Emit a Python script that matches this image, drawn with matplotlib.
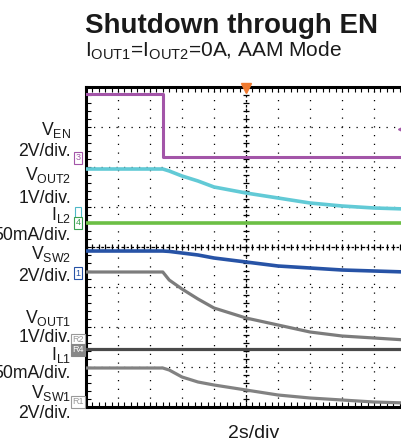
import numpy as np
import matplotlib
matplotlib.use("Agg")
import matplotlib.pyplot as plt

plt.rcParams['font.family'] = ['Liberation Sans', 'DejaVu Sans']
plt.rcParams['mathtext.fontset'] = 'custom'
plt.rcParams['mathtext.rm'] = 'Liberation Sans'
plt.rcParams['mathtext.it'] = 'Liberation Sans:italic'
plt.rcParams['mathtext.bf'] = 'Liberation Sans:bold'

# ---- data (scope divisions: x 0..10, y 0..8) ----
t_div = [0.0, 2.4, 2.6, 3.0, 3.5, 4.0, 5.0, 6.0, 7.0, 8.0, 9.0, 10.0]
ven_t = [0.0, 2.4, 2.4, 10.0]
ven = [7.83, 7.83, 6.25, 6.25]
vout2 = [5.95, 5.95, 5.9, 5.775, 5.65, 5.5, 5.35, 5.225, 5.1, 5.025, 4.975, 4.95]
il2 = [4.6] * len(t_div)
vsw2 = [3.9, 3.9, 3.89, 3.85, 3.8, 3.725, 3.625, 3.525, 3.475, 3.425, 3.4, 3.375]
vout1 = [3.375, 3.375, 3.175, 2.95, 2.7, 2.475, 2.225, 2.05, 1.875, 1.775, 1.725, 1.675]
il1 = [1.45] * len(t_div)
vsw1 = [0.975, 0.975, 0.925, 0.75, 0.625, 0.55, 0.425, 0.3, 0.225, 0.175, 0.125, 0.1]

W, H = 401, 443
fig = plt.figure(figsize=(W / 100, H / 100), dpi=100)
ax = fig.add_axes([86 / W, 36 / H, 320 / W, 320 / H])
ax.set_xlim(0, 10)
ax.set_ylim(0, 8)

# grid
for gx in range(1, 10):
    ax.axvline(gx, color='black', lw=0.9, ls=(0, (1, 6)), zorder=1)
for gy in range(1, 8):
    ax.axhline(gy, color='black', lw=0.9, ls=(0, (1, 5)), zorder=1)
ax.axvline(5, color='black', lw=0.9, ls=(0, (2, 2)), zorder=1)
ax.axhline(4, color='black', lw=0.9, ls=(0, (2, 2)), zorder=1)
ct = np.arange(0.2, 10, 0.2)
ax.plot(ct, [4] * len(ct), ls='none', marker='|', ms=5, mew=0.9, color='black', zorder=1)
cy = np.arange(0.2, 8, 0.2)
ax.plot([5] * len(cy), cy, ls='none', marker='_', ms=5, mew=0.9, color='black', zorder=1)

# traces
ax.plot(ven_t, ven, color='#a355a8', lw=2.2, zorder=3)
ax.plot(t_div, vout2, color='#62cad6', lw=2.6, zorder=3)
ax.plot(t_div, il2, color='#6cbf45', lw=2.6, zorder=3)
ax.plot(t_div, vsw2, color='#2753a6', lw=2.6, zorder=3)
ax.plot(t_div, vout1, color='#7c7c7c', lw=2.3, zorder=3)
ax.plot(t_div, il1, color='#4a4a4a', lw=2.3, zorder=3)
ax.plot(t_div, vsw1, color='#828282', lw=2.3, zorder=3)

# trigger marker
ax.plot([5], [7.97], marker='v', color='#f07a30', ms=7, clip_on=False, zorder=5)
ax.plot([9.85], [6.95], marker='<', color='#a355a8', ms=4, clip_on=False, zorder=5)

# frame and ticks
for s in ax.spines.values():
    s.set_linewidth(2.2)
ax.set_xticks([])
ax.set_yticks([])
ax.set_xticks(np.arange(0, 10.01, 0.2), minor=True)
ax.set_yticks(np.arange(0, 8.01, 0.2), minor=True)
ax.tick_params(which='minor', direction='in', length=3.5, width=0.8,
               top=True, bottom=True, left=True, right=True,
               labelbottom=False, labelleft=False)

def fy(py):
    return 1 - py / H

def fx(px):
    return px / W

# left labels (baselines in px)
lab = [
    (r'V$_{\mathrm{EN}}$', 135), ('2V/div.', 156),
    (r'V$_{\mathrm{OUT2}}$', 180), ('1V/div.', 203),
    (r'I$_{\mathrm{L2}}$', 220), ('50mA/div.', 240),
    (r'V$_{\mathrm{SW2}}$', 259), ('2V/div.', 281),
    (r'V$_{\mathrm{OUT1}}$', 323), ('1V/div.', 342),
    (r'I$_{\mathrm{L1}}$', 360), ('50mA/div.', 378),
    (r'V$_{\mathrm{SW1}}$', 398), ('2V/div.', 418),
]
for txt, py in lab:
    fig.text(fx(71), fy(py), txt, ha='right', va='baseline', fontsize=12.7, color='#1a1a1a')

# channel markers
marks = [('3', 158, '#a355a8', 'white', '#a355a8'),
         (' ', 213, '#4fb8c8', 'white', '#4fb8c8'),
         ('4', 223, '#3aa050', 'white', '#3aa050'),
         ('1', 273, '#2753a6', 'white', '#2753a6'),
         ('R2', 340, '#999999', 'white', '#999999'),
         ('R4', 350, 'white', '#888888', '#888888'),
         ('R1', 402, '#999999', 'white', '#999999')]
for txt, py, tc, fc, ec in marks:
    fig.text(fx(78), fy(py), txt, ha='center', va='center', fontsize=6.5, color=tc,
             bbox=dict(boxstyle='square,pad=0.15', fc=fc, ec=ec, lw=0.8))

fig.text(fx(85), fy(33), 'Shutdown through EN', ha='left', va='baseline',
         fontsize=20, fontweight='bold', color='#1a1a1a')
fig.text(fx(85), fy(57), r'I$_{\mathrm{OUT1}}$=I$_{\mathrm{OUT2}}$=0A, AAM Mode', ha='left',
         va='baseline', fontsize=15, color='#1a1a1a')
fig.text(fx(254), fy(438), '2s/div', ha='center', va='baseline', fontsize=14, color='#1a1a1a')

fig.savefig('out.png', dpi=100)
